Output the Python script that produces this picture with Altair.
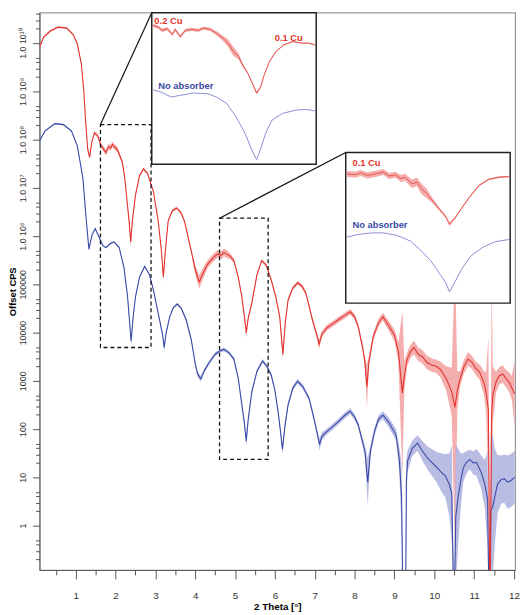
import altair as alt
import pandas as pd
import numpy as np

# ---------------- data (y given as log10 of CPS) -------------
red_x = [0.09, 0.19, 0.36, 0.55, 0.77, 0.93, 1.04, 1.14, 1.20, 1.25, 1.30, 1.35, 1.40, 1.47,
         1.55, 1.63, 1.70, 1.76, 1.82, 1.88, 1.92, 1.98, 2.04, 2.10, 2.17, 2.23, 2.29, 2.34,
         2.38, 2.42, 2.50, 2.60, 2.70, 2.80, 2.95, 3.07, 3.15, 3.20, 3.25, 3.32, 3.42, 3.53,
         3.63, 3.73, 3.90, 4.00, 4.10, 4.18, 4.31, 4.45, 4.56, 4.65, 4.72, 4.80, 4.88, 4.97,
         5.08, 5.17, 5.24, 5.28, 5.33, 5.42, 5.55, 5.67, 5.78, 5.91, 6.02, 6.12, 6.20, 6.26,
         6.33, 6.45, 6.57, 6.68, 6.78, 6.94, 7.05, 7.11, 7.18, 7.31, 7.45, 7.60, 7.75, 7.89,
         8.00, 8.09, 8.20, 8.26, 8.31, 8.36, 8.47, 8.60, 8.71, 8.85, 9.00, 9.10, 9.20, 9.25,
         9.32, 9.40, 9.49, 9.60, 9.70, 9.82, 9.95, 10.05, 10.15, 10.30, 10.44, 10.52, 10.58,
         10.65, 10.75, 10.85, 10.95, 11.05, 11.14, 11.25, 11.30, 11.36, 11.40, 11.44, 11.47,
         11.55, 11.63, 11.72, 11.80, 11.88, 11.95, 12.02]
red_log = [9.91, 10.12, 10.25, 10.33, 10.31, 10.18, 9.98, 9.57, 9.03, 8.35, 7.80, 7.63, 7.94, 8.14,
           8.08, 7.88, 7.80, 7.73, 7.85, 7.83, 7.90, 7.84, 7.80, 7.68, 7.53, 7.20, 6.71, 6.30,
           5.88, 6.30, 6.85, 7.25, 7.39, 7.30, 6.92, 6.31, 5.70, 5.15, 5.70, 6.31, 6.52, 6.58,
           6.50, 6.31, 5.69, 5.30, 5.05, 5.20, 5.42, 5.55, 5.63, 5.60, 5.66, 5.62, 5.58, 5.49,
           5.15, 4.74, 4.30, 3.99, 4.30, 4.61, 5.20, 5.49, 5.40, 5.08, 4.75, 4.33, 3.55, 4.20,
           4.67, 4.92, 5.03, 4.96, 4.81, 4.27, 3.95, 3.76, 3.97, 4.10, 4.18, 4.27, 4.35, 4.43,
           4.33, 4.13, 3.70, 3.38, 2.88, 3.40, 3.92, 4.20, 4.33, 4.15, 3.95, 3.60, 2.75, 3.10,
           3.45, 3.60, 3.69, 3.55, 3.50, 3.38, 3.32, 3.30, 3.24, 3.05, 2.77, 2.45, 2.80,
           3.04, 3.30, 3.45, 3.38, 3.25, 3.18, 2.95, 2.77, 2.40, -2.0, 2.30, 2.70,
           2.97, 3.10, 3.14, 3.05, 2.97, 2.85, 2.73]
red_err = [0.02, 0.02, 0.02, 0.02, 0.02, 0.02, 0.02, 0.02, 0.02, 0.02, 0.03, 0.03, 0.03, 0.03,
           0.04, 0.06, 0.06, 0.06, 0.06, 0.06, 0.06, 0.06, 0.06, 0.05, 0.04, 0.04, 0.04, 0.06,
           0.10, 0.05, 0.03, 0.03, 0.03, 0.03, 0.03, 0.03, 0.05, 0.10, 0.05, 0.03, 0.03, 0.03,
           0.03, 0.03, 0.05, 0.10, 0.14, 0.12, 0.08, 0.08, 0.08, 0.08, 0.08, 0.08, 0.06, 0.05,
           0.04, 0.04, 0.06, 0.10, 0.05, 0.04, 0.03, 0.03, 0.03, 0.04, 0.04, 0.05, 0.12, 0.05,
           0.04, 0.04, 0.04, 0.04, 0.04, 0.05, 0.06, 0.10, 0.06, 0.06, 0.06, 0.06, 0.06, 0.06,
           0.06, 0.06, 0.08, 0.12, 0.45, 0.12, 0.08, 0.08, 0.08, 0.10, 0.12, 0.20, 1.70, 0.30,
           0.14, 0.14, 0.14, 0.14, 0.14, 0.14, 0.14, 0.14, 0.16, 0.25, 0.50, 3.00, 0.40,
           0.16, 0.14, 0.14, 0.14, 0.14, 0.16, 0.25, 0.40, 1.50, 0.10, 3.00, 0.60,
           0.22, 0.18, 0.18, 0.18, 0.20, 0.25, 0.70]

blue_x = [0.09, 0.23, 0.48, 0.69, 0.89, 1.04, 1.18, 1.26, 1.33, 1.41, 1.49, 1.59, 1.68, 1.76,
          1.86, 1.96, 2.09, 2.21, 2.30, 2.39, 2.45, 2.50, 2.60, 2.73, 2.85, 2.95, 3.12, 3.18,
          3.22, 3.27, 3.36, 3.45, 3.55, 3.65, 3.77, 3.90, 4.00, 4.06, 4.14, 4.22, 4.35, 4.50,
          4.62, 4.72, 4.85, 4.97, 5.08, 5.17, 5.23, 5.28, 5.33, 5.42, 5.55, 5.69, 5.80, 5.91,
          6.00, 6.08, 6.14, 6.19, 6.25, 6.33, 6.45, 6.57, 6.70, 6.86, 7.00, 7.07, 7.12, 7.18,
          7.31, 7.45, 7.60, 7.75, 7.89, 8.00, 8.09, 8.18, 8.26, 8.33, 8.40, 8.50, 8.60, 8.71,
          8.85, 9.04, 9.12, 9.18, 9.22, 9.28, 9.30, 9.33, 9.45, 9.58, 9.70, 9.82, 9.95, 10.07,
          10.18, 10.28, 10.38, 10.44, 10.50, 10.54, 10.60, 10.66, 10.73, 10.80, 10.89, 10.98,
          11.06, 11.18, 11.27, 11.34, 11.38, 11.42, 11.47, 11.52, 11.59, 11.68, 11.76, 11.84,
          11.92, 12.02]
blue_log = [7.97, 8.18, 8.33, 8.31, 8.18, 7.87, 7.19, 6.37, 5.73, 6.03, 6.15, 5.97, 5.80, 5.76,
            5.84, 5.88, 5.76, 5.35, 4.75, 3.82, 4.40, 4.74, 5.15, 5.37, 5.20, 4.88, 4.20, 3.95,
            3.69, 4.00, 4.33, 4.52, 4.59, 4.50, 4.27, 3.85, 3.35, 3.14, 3.04, 3.20, 3.38, 3.55,
            3.62, 3.65, 3.58, 3.45, 3.05, 2.50, 2.15, 1.75, 2.20, 2.77, 3.20, 3.41, 3.30, 3.11,
            2.80, 2.36, 1.95, 1.58, 2.05, 2.50, 2.85, 2.99, 2.88, 2.63, 2.15, 1.88, 1.68, 1.85,
            1.95, 2.05, 2.16, 2.28, 2.37, 2.25, 2.09, 1.80, 1.54, 0.90, 1.55, 1.95, 2.20, 2.29,
            2.15, 1.88, 1.40, 0.60, -2.0, -2.0, 0.90, 1.34, 1.60, 1.71, 1.55, 1.41, 1.30, 1.20,
            1.10, 1.03, 0.85, 0.66, -2.0, 0.18, 0.59, 0.90, 1.20, 1.30, 1.37, 1.30,
            1.31, 1.10, 0.86, 0.55, -2.0, 0.32, 0.39, 0.60, 0.86, 0.95, 0.97, 0.90,
            0.93, 1.00]
blue_err = [0.02, 0.02, 0.02, 0.02, 0.02, 0.02, 0.02, 0.02, 0.03, 0.02, 0.02, 0.02, 0.02, 0.02,
            0.02, 0.02, 0.02, 0.02, 0.03, 0.08, 0.03, 0.02, 0.02, 0.02, 0.02, 0.02, 0.03, 0.04,
            0.08, 0.04, 0.03, 0.03, 0.03, 0.03, 0.03, 0.04, 0.05, 0.06, 0.06, 0.05, 0.04, 0.04,
            0.04, 0.04, 0.04, 0.04, 0.04, 0.05, 0.07, 0.10, 0.07, 0.04, 0.04, 0.04, 0.04, 0.04,
            0.04, 0.05, 0.07, 0.10, 0.07, 0.05, 0.05, 0.05, 0.05, 0.05, 0.06, 0.08, 0.12, 0.08,
            0.06, 0.06, 0.06, 0.06, 0.06, 0.06, 0.06, 0.08, 0.12, 0.50, 0.12, 0.08, 0.08, 0.08,
            0.10, 0.12, 0.25, 0.70, 0.10, 0.10, 0.50, 0.22, 0.16, 0.16, 0.20, 0.24, 0.28, 0.32,
            0.40, 0.45, 0.65, 1.00, 0.10, 1.50, 1.00, 0.60, 0.30, 0.24, 0.20, 0.24,
            0.28, 0.35, 0.50, 1.00, 0.10, 1.50, 1.50, 1.00, 0.60, 0.50, 0.50, 0.55,
            0.55, 0.55]

# dashed zoom regions in the main plot (2θ range, CPS range)
zoom_x0 = [1.62, 4.61]
zoom_x1 = [2.89, 5.83]
zoom_y0 = [10 ** 3.69, 10 ** 1.37]
zoom_y1 = [10 ** 8.31, 10 ** 6.37]

# inset 1 (zoom of 1.62-2.89 deg)
in1_red_x = [1.63, 1.67, 1.70, 1.74, 1.78, 1.80, 1.84, 1.88, 1.93, 1.98, 2.02, 2.07, 2.12, 2.17,
             2.21, 2.25, 2.29, 2.32, 2.36, 2.40, 2.43, 2.46, 2.49, 2.53, 2.58, 2.64, 2.71, 2.78,
             2.83, 2.88]
in1_red_log = [7.92, 7.87, 7.77, 7.82, 7.65, 7.80, 7.58, 7.77, 7.80, 7.77, 7.84, 7.80, 7.68, 7.53,
               7.38, 7.13, 6.98, 6.73, 6.48, 6.13, 5.86, 6.04, 6.43, 6.83, 7.13, 7.33, 7.43, 7.38,
               7.38, 7.33]
in1_red_err = [0.05, 0.05, 0.05, 0.05, 0.05, 0.05, 0.05, 0.05, 0.05, 0.05, 0.05, 0.05, 0.06, 0.08,
               0.12, 0.14, 0.10, 0.05, 0.03, 0.03, 0.05, 0.03, 0.02, 0.02, 0.02, 0.02, 0.02, 0.02,
               0.02, 0.02]
in1_blue_x = [1.63, 1.69, 1.77, 1.84, 1.94, 2.05, 2.12, 2.20, 2.27, 2.34, 2.39, 2.43, 2.46, 2.50,
              2.55, 2.63, 2.73, 2.81, 2.88]
in1_blue_log = [5.96, 5.89, 5.74, 5.79, 5.86, 5.84, 5.74, 5.54, 5.14, 4.64, 4.15, 3.83, 4.15, 4.64,
                5.04, 5.24, 5.34, 5.36, 5.32]

# inset 2 (zoom of 4.61-5.83 deg)
in2_red_x = [4.62, 4.68, 4.72, 4.77, 4.83, 4.89, 4.93, 4.98, 5.02, 5.05, 5.10, 5.14, 5.17, 5.21,
             5.26, 5.31, 5.35, 5.38, 5.42, 5.47, 5.53, 5.60, 5.67, 5.75, 5.82]
in2_red_log = [5.66, 5.63, 5.69, 5.61, 5.66, 5.72, 5.59, 5.63, 5.50, 5.55, 5.33, 5.39, 5.17, 5.01,
               4.74, 4.46, 4.25, 3.99, 4.19, 4.52, 4.90, 5.28, 5.48, 5.55, 5.57]
in2_red_err = [0.10, 0.10, 0.10, 0.10, 0.10, 0.10, 0.10, 0.10, 0.12, 0.12, 0.14, 0.14, 0.18, 0.16,
               0.08, 0.05, 0.05, 0.06, 0.04, 0.03, 0.03, 0.03, 0.03, 0.03, 0.03]
in2_blue_x = [4.62, 4.70, 4.80, 4.89, 4.99, 5.09, 5.16, 5.24, 5.30, 5.35, 5.38, 5.42, 5.47, 5.54,
              5.63, 5.72, 5.82]
in2_blue_log = [3.56, 3.65, 3.70, 3.70, 3.62, 3.43, 3.15, 2.78, 2.39, 2.07, 1.74, 2.07, 2.50, 2.94,
                3.23, 3.41, 3.48]

inset1_labels = ["0.2 Cu", "0.1 Cu", "No absorber"]
inset1_lab_x = [1.64, 2.57, 1.67]
inset1_lab_log = [8.04, 7.53, 6.07]
inset2_labels = ["0.1 Cu", "No absorber"]
inset2_lab_x = [4.66, 4.66]
inset2_lab_log = [6.02, 3.97]

x_ticks = list(range(1, 13))
x_minor = [k + 0.5 for k in range(0, 12)]
y_tick_values = [1, 10, 100, 1000, 10000, 100000, 1e6, 1e7, 1e8, 1e9, 1e10]
y_tick_labels = ["1", "10", "100", "1000", "10000", "100000",
                 "1.0 10\u2076", "1.0 10\u2077", "1.0 10\u2078", "1.0 10\u2079", "1.0 10\u00b9\u2070"]
y_minor = [m * 10.0 ** k for k in range(-1, 11) for m in (2, 3, 4, 5)]

# ---------------- styling / layout ----------------
RED, RED_BAND = "#e2342e", "#f3a0a0"
BLUE, BLUE_BAND = "#3a4aa6", "#aeb2de"
IN_RED, IN_BLUE = "#e4554f", "#8b8ed2"
FONT = "Liberation Sans"
W, H = 483, 566
INSET1 = (114, 281, 0, 154)   # x0, x1, y0, y1 in plot pixels
INSET2 = (311, 478, 142, 295)


def frame(xs, logs, errs=None):
    y = 10.0 ** np.array(logs, dtype=float)
    d = pd.DataFrame({"x": xs, "y": y})
    if errs is not None:
        e = 10.0 ** np.array(errs, dtype=float)
        d["lo"] = y / e
        d["hi"] = y * e
    return d


red_df = frame(red_x, red_log, red_err)
blue_df = frame(blue_x, blue_log, blue_err)

XS = alt.Scale(domain=[0.09, 12.03], nice=False, zero=False)
YS = alt.Scale(type="log", domain=[0.12, 4.27e10], nice=False)

label_expr = "''"
for v, lab in zip(y_tick_values, y_tick_labels):
    label_expr = f"abs(log(datum.value)/LN10 - {np.log10(v):.1f}) < 0.05 ? '{lab}' : {label_expr}"

XA = alt.Axis(values=x_ticks, format="d", tickSize=9, labelPadding=12, labelFontSize=10,
              labelFont=FONT, labelColor="#333", labelFlush=False, labelOverlap=False,
              title="2 Theta [°]", titleFont=FONT, titleFontSize=10, titleFontWeight="bold",
              titlePadding=1, grid=False, domainColor="#555", tickColor="#555", orient="bottom")
YA = alt.Axis(values=y_tick_values, labelExpr=label_expr, tickSize=7, labelPadding=5,
              labelFontSize=9, labelFont=FONT, labelColor="#333", labelAngle=270,
              labelAlign="center", labelBaseline="bottom", labelOverlap=False, labelFlush=False,
              title="Offset CPS", titleFont=FONT, titleFontSize=9.5, titleFontWeight="bold",
              titleAngle=270, titlePadding=1, grid=False, domainColor="#555", tickColor="#555",
              orient="left")


def X(f="x"):
    return alt.X(f"{f}:Q", scale=XS, axis=XA)


def Y(f="y"):
    return alt.Y(f"{f}:Q", scale=YS, axis=YA)


red_band = alt.Chart(red_df).mark_area(color=RED_BAND, opacity=0.85, clip=True).encode(
    x=X(), y=Y("lo"), y2="hi")
blue_band = alt.Chart(blue_df).mark_area(color=BLUE_BAND, opacity=0.85, clip=True).encode(
    x=X(), y=Y("lo"), y2="hi")
blue_line = alt.Chart(blue_df).mark_line(color=BLUE, strokeWidth=1.1, clip=True).encode(
    x=X(), y=Y())
red_line = alt.Chart(red_df).mark_line(color=RED, strokeWidth=1.1, clip=True).encode(
    x=X(), y=Y())

zoom_df = pd.DataFrame({"x": zoom_x0, "x1": zoom_x1, "y": zoom_y0, "y1": zoom_y1})
dashed = alt.Chart(zoom_df).mark_rect(fill=None, fillOpacity=0, stroke="#111", strokeWidth=1.3,
                                      strokeDash=[4, 3]).encode(
    x=X(), x2="x1", y=Y(), y2="y1")

conn1 = alt.Chart(pd.DataFrame({"x": [zoom_x0[0]], "y": [zoom_y1[0]]})).mark_rule(
    color="#111", strokeWidth=1.2).encode(x=X(), y=Y(), x2=alt.value(INSET1[0]), y2=alt.value(INSET1[2]))
conn2 = alt.Chart(pd.DataFrame({"x": [zoom_x0[1]], "y": [zoom_y1[1]]})).mark_rule(
    color="#111", strokeWidth=1.2).encode(x=X(), y=Y(), x2=alt.value(INSET2[0]), y2=alt.value(INSET2[2]))

curves = alt.layer(red_band, blue_band, blue_line, red_line, dashed, conn1, conn2)

minor = alt.Chart(red_df).mark_point(opacity=0).encode(
    x=alt.X("x:Q", scale=XS, title=None,
            axis=alt.Axis(values=x_minor, labels=False, tickSize=5, domain=False, grid=False,
                          tickColor="#555", orient="bottom")),
    y=alt.Y("y:Q", scale=YS, title=None,
            axis=alt.Axis(values=y_minor, labels=False, tickSize=4, domain=False, grid=False,
                          tickColor="#555", orient="left")))

main = alt.layer(curves, minor).resolve_axis(x="independent", y="independent")


def inset(box, xdom, ydom, rx, rlog, rerr, bx, blog, labels, lx, llog, lcol):
    x0, x1, y0, y1 = box
    xs = alt.Scale(domain=xdom, range=[x0, x1], nice=False, zero=False)
    ys = alt.Scale(type="log", domain=ydom, range=[y1, y0], nice=False)
    bg = alt.Chart(pd.DataFrame({"a": [0]})).mark_rect(
        fill="white", stroke="#222", strokeWidth=1.5).encode(
        x=alt.value(x0), x2=alt.value(x1), y=alt.value(y0), y2=alt.value(y1))
    rd = frame(rx, rlog, rerr)
    bd = frame(bx, blog)
    rb = alt.Chart(rd).mark_area(color=RED_BAND, opacity=0.85).encode(
        x=alt.X("x:Q", scale=xs, axis=None), y=alt.Y("lo:Q", scale=ys, axis=None), y2="hi")
    rl = alt.Chart(rd).mark_line(color=IN_RED, strokeWidth=1.0).encode(
        x=alt.X("x:Q", scale=xs, axis=None), y=alt.Y("y:Q", scale=ys, axis=None))
    bl = alt.Chart(bd).mark_line(color=IN_BLUE, strokeWidth=1.0).encode(
        x=alt.X("x:Q", scale=xs, axis=None), y=alt.Y("y:Q", scale=ys, axis=None))
    ld = pd.DataFrame({"t": labels, "x": lx, "y": 10.0 ** np.array(llog), "c": lcol})
    tx = alt.Chart(ld).mark_text(align="left", baseline="middle", font=FONT, fontSize=9.5,
                                 fontWeight="bold").encode(
        x=alt.X("x:Q", scale=xs, axis=None), y=alt.Y("y:Q", scale=ys, axis=None),
        text="t:N", color=alt.Color("c:N", scale=None))
    return alt.layer(bg, rb, rl, bl, tx)


ins1 = inset(INSET1, [zoom_x0[0], zoom_x1[0]], [zoom_y0[0], zoom_y1[0]],
             in1_red_x, in1_red_log, in1_red_err, in1_blue_x, in1_blue_log,
             inset1_labels, inset1_lab_x, inset1_lab_log, [RED, RED, BLUE])
ins2 = inset(INSET2, [zoom_x0[1], zoom_x1[1]], [zoom_y0[1], zoom_y1[1]],
             in2_red_x, in2_red_log, in2_red_err, in2_blue_x, in2_blue_log,
             inset2_labels, inset2_lab_x, inset2_lab_log, [RED, BLUE])

chart = alt.layer(main, ins1, ins2).resolve_scale(
    x="independent", y="independent").properties(
    width=W, height=H, autosize="none",
    padding={"left": 32, "top": 0, "right": 6, "bottom": 40}
).configure(font=FONT).configure_view(stroke="#9a9a9a", strokeWidth=1.2)

chart.save("out.html", embed_options={"renderer": "svg", "actions": False})
